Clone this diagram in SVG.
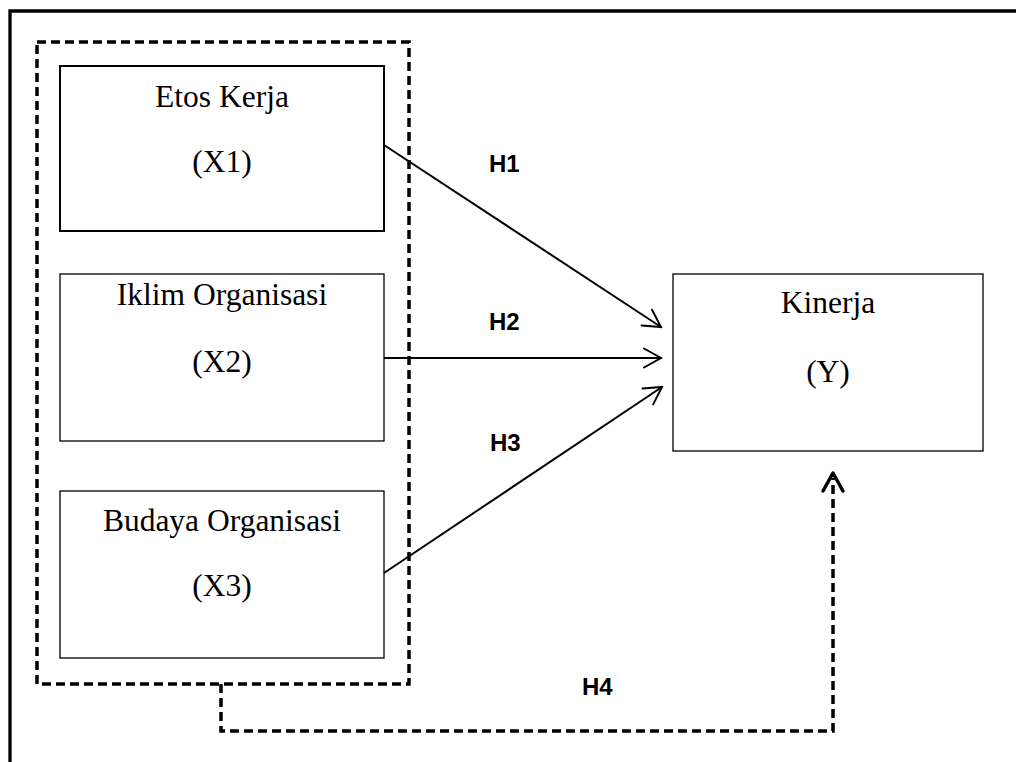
<svg xmlns="http://www.w3.org/2000/svg" width="1016" height="762" viewBox="0 0 1016 762">
<defs>
<style>
.box{fill:#fff;stroke:#000;stroke-width:1.3}
.lbl{font-family:"Liberation Serif","Times New Roman",serif;font-size:31.5px;fill:#000;text-anchor:middle}
.h{font-family:"Liberation Sans",Arial,sans-serif;font-weight:bold;font-size:24px;fill:#000}
.arr{fill:none;stroke:#000;stroke-width:2;marker-end:url(#open)}
.dash{fill:none;stroke:#000;stroke-width:3.5;stroke-dasharray:9 5}
</style>
<marker id="open" viewBox="-22 -12 24 24" markerWidth="24" markerHeight="24" refX="0" refY="0" orient="auto" markerUnits="userSpaceOnUse">
<path d="M-17,-9.5 L0,0 L-17,9.5" fill="none" stroke="#000" stroke-width="2" stroke-linecap="round"/>
</marker>
</defs>
<rect width="1016" height="762" fill="#fff"/>
<path d="M10,762 V11 H1016" fill="none" stroke="#000" stroke-width="3.3"/>
<rect class="dash" x="37" y="42" width="372" height="642"/>
<g id="x1">
<rect class="box" x="60" y="66" width="324" height="165" style="stroke-width:2"/>
<text class="lbl" x="222" y="107">Etos Kerja</text>
<text class="lbl" x="222" y="172">(X1)</text>
</g>
<g id="x2">
<rect class="box" x="60" y="274" width="324" height="167"/>
<text class="lbl" x="222" y="305">Iklim Organisasi</text>
<text class="lbl" x="222" y="372">(X2)</text>
</g>
<g id="x3">
<rect class="box" x="60" y="491" width="324" height="167"/>
<text class="lbl" x="222" y="531">Budaya Organisasi</text>
<text class="lbl" x="222" y="596">(X3)</text>
</g>
<g id="y">
<rect class="box" x="673" y="274" width="310" height="177"/>
<text class="lbl" x="828" y="313">Kinerja</text>
<text class="lbl" x="828" y="382">(Y)</text>
</g>
<g id="connectors">
<line class="arr" x1="384" y1="145" x2="661" y2="327"/>
<line class="arr" x1="384" y1="358" x2="661" y2="358"/>
<line class="arr" x1="384" y1="573" x2="662" y2="387"/>
<path class="dash" d="M221,684 V731 H833 V478"/>
<path d="M823,491 L833,473 L843,491" fill="none" stroke="#000" stroke-width="3.5" stroke-linecap="round" stroke-linejoin="round"/>
<text class="h" x="489" y="172">H1</text>
<text class="h" x="489" y="330">H2</text>
<text class="h" x="490" y="451">H3</text>
<text class="h" x="582" y="695">H4</text>
</g>
</svg>
